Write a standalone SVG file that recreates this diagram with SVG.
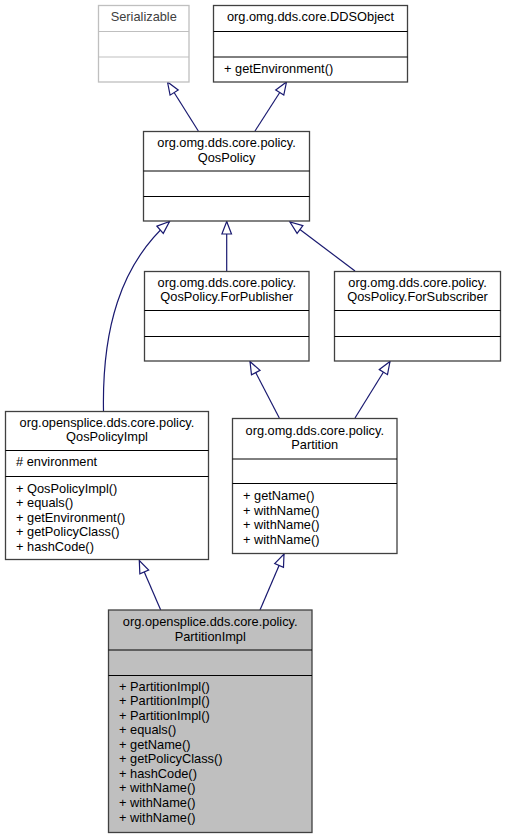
<svg xmlns="http://www.w3.org/2000/svg" width="506" height="839" viewBox="0 0 506 839">
<style>
.box{fill:#ffffff;stroke:#404040;stroke-width:1.3}
.boxg{fill:#ffffff;stroke:#bfbfbf;stroke-width:1.3}
.boxs{fill:#bfbfbf;stroke:#404040;stroke-width:1.3}
.div{stroke:#000000;stroke-width:1}
.divg{stroke:#bfbfbf;stroke-width:1}
text{font-family:"Liberation Sans",Arial,Helvetica,sans-serif;font-size:12.8px;fill:#000000}
.c{text-anchor:middle}
.gt{fill:#404040}
.edge{fill:none;stroke:#191970;stroke-width:1.2}
</style>
<defs>
<marker id="inh" markerUnits="userSpaceOnUse" markerWidth="16" markerHeight="14" viewBox="0 0 16 14" refX="14" refY="7" orient="auto">
<path d="M1.5,2.2 L14,7 L1.5,11.8 Z" fill="#ffffff" stroke="#191970" stroke-width="1.2"/>
</marker>
</defs>
<rect width="506" height="839" fill="#ffffff"/>
<g id="connectors">
<path class="edge" d="M198.3,131 L167.5,82" marker-end="url(#inh)"/>
<path class="edge" d="M255,131 L286.5,82" marker-end="url(#inh)"/>
<path class="edge" d="M226.7,271 L226.7,221.5" marker-end="url(#inh)"/>
<path class="edge" d="M355,271 L290,222" marker-end="url(#inh)"/>
<path class="edge" d="M103.5,411 C102,330 120,265 169.5,221.5" marker-end="url(#inh)"/>
<path class="edge" d="M279.3,418 L250,361.5" marker-end="url(#inh)"/>
<path class="edge" d="M355,418 L390,361.5" marker-end="url(#inh)"/>
<path class="edge" d="M160.7,610 L139.3,560.5" marker-end="url(#inh)"/>
<path class="edge" d="M260,610 L284,554" marker-end="url(#inh)"/>
</g>
<g id="Serializable">
<rect class="boxg" x="98.5" y="5.5" width="90.5" height="76.5"/>
<line class="divg" x1="98.5" y1="31.5" x2="189" y2="31.5"/>
<line class="divg" x1="98.5" y1="57" x2="189" y2="57"/>
<text class="c gt" x="143.75" y="21">Serializable</text>
</g>
<g id="DDSObject">
<rect class="box" x="213.5" y="5.5" width="194" height="76.5"/>
<line class="div" x1="213.5" y1="31.5" x2="407.5" y2="31.5"/>
<line class="div" x1="213.5" y1="57" x2="407.5" y2="57"/>
<text class="c" x="310.5" y="21">org.omg.dds.core.DDSObject</text>
<text x="224" y="73">+ getEnvironment()</text>
</g>
<g id="QosPolicy">
<rect class="box" x="143.5" y="131.5" width="166" height="89.5"/>
<line class="div" x1="143.5" y1="171" x2="309.5" y2="171"/>
<line class="div" x1="143.5" y1="196.5" x2="309.5" y2="196.5"/>
<text class="c" x="226.5" y="147">org.omg.dds.core.policy.</text>
<text class="c" x="226.5" y="161.5">QosPolicy</text>
</g>
<g id="ForPublisher">
<rect class="box" x="144.5" y="271.5" width="164.5" height="89.5"/>
<line class="div" x1="144.5" y1="310.5" x2="309" y2="310.5"/>
<line class="div" x1="144.5" y1="336.5" x2="309" y2="336.5"/>
<text class="c" x="226.75" y="286.5">org.omg.dds.core.policy.</text>
<text class="c" x="226.75" y="301">QosPolicy.ForPublisher</text>
</g>
<g id="ForSubscriber">
<rect class="box" x="334.5" y="271.5" width="166" height="89.5"/>
<line class="div" x1="334.5" y1="310.5" x2="500.5" y2="310.5"/>
<line class="div" x1="334.5" y1="336.5" x2="500.5" y2="336.5"/>
<text class="c" x="417.5" y="286.5">org.omg.dds.core.policy.</text>
<text class="c" x="417.5" y="301">QosPolicy.ForSubscriber</text>
</g>
<g id="QosPolicyImpl">
<rect class="box" x="5.5" y="411.5" width="203" height="148"/>
<line class="div" x1="5.5" y1="450.5" x2="208.5" y2="450.5"/>
<line class="div" x1="5.5" y1="476.5" x2="208.5" y2="476.5"/>
<text class="c" x="107" y="426.5">org.opensplice.dds.core.policy.</text>
<text class="c" x="107" y="441">QosPolicyImpl</text>
<text x="16" y="466"># environment</text>
<text x="16" y="492.5">+ QosPolicyImpl()</text>
<text x="16" y="507">+ equals()</text>
<text x="16" y="521.5">+ getEnvironment()</text>
<text x="16" y="536">+ getPolicyClass()</text>
<text x="16" y="550.5">+ hashCode()</text>
</g>
<g id="Partition">
<rect class="box" x="232.5" y="418.5" width="164.5" height="135"/>
<line class="div" x1="232.5" y1="459" x2="397" y2="459"/>
<line class="div" x1="232.5" y1="483.5" x2="397" y2="483.5"/>
<text class="c" x="314.75" y="434.5">org.omg.dds.core.policy.</text>
<text class="c" x="314.75" y="449">Partition</text>
<text x="243" y="500">+ getName()</text>
<text x="243" y="514.5">+ withName()</text>
<text x="243" y="529">+ withName()</text>
<text x="243" y="543.5">+ withName()</text>
</g>
<g id="PartitionImpl">
<rect class="boxs" x="108.5" y="610" width="203.5" height="222.5"/>
<line class="div" x1="108.5" y1="650" x2="312" y2="650"/>
<line class="div" x1="108.5" y1="675.5" x2="312" y2="675.5"/>
<text class="c" x="210.25" y="625.5">org.opensplice.dds.core.policy.</text>
<text class="c" x="210.25" y="640.5">PartitionImpl</text>
<text x="119" y="690.5">+ PartitionImpl()</text>
<text x="119" y="705">+ PartitionImpl()</text>
<text x="119" y="719.6">+ PartitionImpl()</text>
<text x="119" y="734.2">+ equals()</text>
<text x="119" y="748.7">+ getName()</text>
<text x="119" y="763.3">+ getPolicyClass()</text>
<text x="119" y="777.8">+ hashCode()</text>
<text x="119" y="792.4">+ withName()</text>
<text x="119" y="806.9">+ withName()</text>
<text x="119" y="821.5">+ withName()</text>
</g>
</svg>
